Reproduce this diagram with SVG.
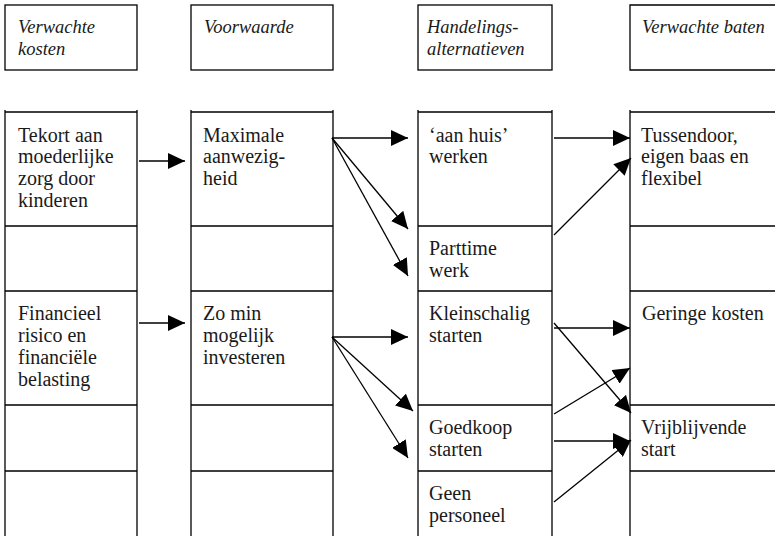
<svg xmlns="http://www.w3.org/2000/svg" width="775" height="536" viewBox="0 0 775 536">
<style>
  .box { fill: none; stroke: #000; stroke-width: 1.3; }
  .grid { stroke: #000; stroke-width: 1.3; fill: none; }
  .t { font-family: 'Liberation Serif', 'Times New Roman', serif; font-size: 20px; fill: #1a1a1a; }
  .h { font-family: 'Liberation Serif', 'Times New Roman', serif; font-size: 18.5px; font-style: italic; fill: #1a1a1a; }
  .c { stroke: #000; stroke-width: 1.3; fill: none; marker-end: url(#ah); }
</style>
<defs>
  <marker id="ah" markerUnits="userSpaceOnUse" markerWidth="17" markerHeight="16" refX="17" refY="8" orient="auto">
    <path d="M0,0 L17,8 L0,16 Z" fill="#000"/>
  </marker>
</defs>
<rect width="775" height="536" fill="#fff"/>

<!-- header boxes -->
<g id="hdr-kosten">
  <rect class="box" x="5" y="5" width="132" height="65"/>
  <text class="h" x="18" y="33">Verwachte</text>
  <text class="h" x="18" y="55">kosten</text>
</g>
<g id="hdr-voorwaarde">
  <rect class="box" x="191" y="5" width="142" height="65"/>
  <text class="h" x="204" y="33">Voorwaarde</text>
</g>
<g id="hdr-handelingen">
  <rect class="box" x="418" y="5" width="134" height="65"/>
  <text class="h" x="427" y="33">Handelings-</text>
  <text class="h" x="427" y="55">alternatieven</text>
</g>
<g id="hdr-baten">
  <path class="grid" d="M780,5 H630 V70 H780"/>
  <text class="h" x="642" y="33">Verwachte baten</text>
</g>

<!-- column 1 -->
<g id="col1">
  <path class="grid" d="M5,110 V536 M137,110 V536 M5,112 H137 M5,226 H137 M5,291 H137 M5,405 H137 M5,471 H137"/>
  <g id="n-tekort">
    <text class="t" x="18" y="142">Tekort aan</text>
    <text class="t" x="18" y="163">moederlijke</text>
    <text class="t" x="18" y="185">zorg door</text>
    <text class="t" x="18" y="207">kinderen</text>
  </g>
  <g id="n-financieel">
    <text class="t" x="18" y="320">Financieel</text>
    <text class="t" x="18" y="342">risico en</text>
    <text class="t" x="18" y="364">financiële</text>
    <text class="t" x="18" y="386">belasting</text>
  </g>
</g>

<!-- column 2 -->
<g id="col2">
  <path class="grid" d="M191,110 V536 M333,110 V536 M191,112 H333 M191,226 H333 M191,291 H333 M191,405 H333 M191,471 H333"/>
  <g id="n-maximale">
    <text class="t" x="203" y="142">Maximale</text>
    <text class="t" x="203" y="163">aanwezig-</text>
    <text class="t" x="203" y="185">heid</text>
  </g>
  <g id="n-zomin">
    <text class="t" x="203" y="320">Zo min</text>
    <text class="t" x="203" y="342">mogelijk</text>
    <text class="t" x="203" y="364">investeren</text>
  </g>
</g>

<!-- column 3 -->
<g id="col3">
  <path class="grid" d="M418,110 V536 M552,110 V536 M418,112 H552 M418,226 H552 M418,291 H552 M418,405 H552 M418,471 H552"/>
  <g id="n-aanhuis">
    <text class="t" x="429" y="142">‘aan huis’</text>
    <text class="t" x="429" y="163">werken</text>
  </g>
  <g id="n-parttime">
    <text class="t" x="429" y="255">Parttime</text>
    <text class="t" x="429" y="277">werk</text>
  </g>
  <g id="n-kleinschalig">
    <text class="t" x="429" y="320">Kleinschalig</text>
    <text class="t" x="429" y="342">starten</text>
  </g>
  <g id="n-goedkoop">
    <text class="t" x="429" y="434">Goedkoop</text>
    <text class="t" x="429" y="456">starten</text>
  </g>
  <g id="n-geen">
    <text class="t" x="429" y="500">Geen</text>
    <text class="t" x="429" y="522">personeel</text>
  </g>
</g>

<!-- column 4 -->
<g id="col4">
  <path class="grid" d="M630,110 V536 M630,112 H780 M630,226 H780 M630,291 H780 M630,405 H780 M630,471 H780"/>
  <g id="n-tussendoor">
    <text class="t" x="641" y="142">Tussendoor,</text>
    <text class="t" x="641" y="163">eigen baas en</text>
    <text class="t" x="641" y="185">flexibel</text>
  </g>
  <g id="n-geringe">
    <text class="t" x="642" y="320">Geringe kosten</text>
  </g>
  <g id="n-vrijblijvend">
    <text class="t" x="641" y="434">Vrijblijvende</text>
    <text class="t" x="641" y="456">start</text>
  </g>
</g>

<!-- connectors -->
<g id="connectors">
  <line class="c" x1="139" y1="161" x2="185" y2="161"/>
  <line class="c" x1="139" y1="323" x2="185" y2="323"/>
  <line class="c" x1="332" y1="138" x2="408" y2="138"/>
  <line class="c" x1="332" y1="138" x2="408" y2="229"/>
  <line class="c" x1="332" y1="138" x2="408" y2="276"/>
  <line class="c" x1="554" y1="138" x2="630" y2="138"/>
  <line class="c" x1="554" y1="235" x2="631" y2="158"/>
  <line class="c" x1="332" y1="337" x2="408" y2="337"/>
  <line class="c" x1="332" y1="337" x2="413" y2="411"/>
  <line class="c" x1="332" y1="337" x2="408" y2="458"/>
  <line class="c" x1="554" y1="328" x2="630" y2="328"/>
  <line class="c" x1="554" y1="323" x2="631" y2="413"/>
  <line class="c" x1="554" y1="414" x2="630" y2="368"/>
  <line class="c" x1="554" y1="441" x2="630" y2="441"/>
  <line class="c" x1="554" y1="502" x2="631" y2="440"/>
</g>
</svg>
